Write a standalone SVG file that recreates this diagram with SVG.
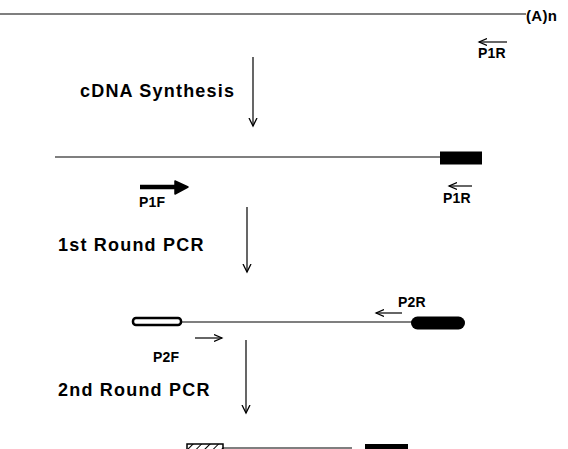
<svg xmlns="http://www.w3.org/2000/svg" width="568" height="449" viewBox="0 0 568 449">
<style>
.t{font-family:"Liberation Sans",Arial,sans-serif;font-weight:bold;fill:#000}
.h{font-size:18px;letter-spacing:1.2px}
.p{font-size:14px;letter-spacing:0.2px}
.ln{stroke:#000;stroke-width:1.2;fill:none}
.pr{stroke:#000;stroke-width:1.2;fill:none;marker-end:url(#oa)}
.va{stroke:#000;stroke-width:1.2;fill:none;marker-end:url(#va)}
</style>
<defs>
<marker id="oa" markerWidth="10" markerHeight="8" refX="8" refY="4" orient="auto" markerUnits="userSpaceOnUse">
<path d="M0,0.5 L8,4 L0,7.5" fill="none" stroke="#000" stroke-width="1.2"/>
</marker>
<marker id="va" markerWidth="10" markerHeight="10" refX="8" refY="4.5" orient="auto" markerUnits="userSpaceOnUse">
<path d="M0,0.5 L8,4.5 L0,8.5" fill="none" stroke="#000" stroke-width="1.3"/>
</marker>
<pattern id="hatch" width="6" height="6" patternUnits="userSpaceOnUse" patternTransform="rotate(45)">
<rect width="6" height="6" fill="#fff"/>
<line x1="0" y1="0" x2="0" y2="6" stroke="#000" stroke-width="2"/>
</pattern>
</defs>

<g id="mrna">
<line class="ln" x1="0" y1="14" x2="526" y2="14"/>
<text class="t" x="526" y="21" font-size="15" letter-spacing="0.3">(A)n</text>
</g>
<g id="p1r-top">
<line class="pr" x1="507" y1="42" x2="479" y2="42"/>
<text class="t p" x="478" y="58">P1R</text>
</g>
<g id="step-cdna">
<text class="t h" x="80" y="97">cDNA Synthesis</text>
</g>

<g id="cdna">
<line class="ln" x1="55" y1="157" x2="441" y2="157"/>
<rect x="440" y="151.5" width="42" height="13" fill="#000"/>
</g>
<g id="p1f">
<line x1="140" y1="187" x2="180" y2="187" stroke="#000" stroke-width="4.5"/>
<path d="M175,181 L188,187 L175,194 Z" fill="#000" stroke="#000" stroke-width="1.5" stroke-linejoin="round"/>
<text class="t p" x="139" y="207">P1F</text>
</g>
<g id="p1r-mid">
<line class="pr" x1="472" y1="186" x2="449" y2="186"/>
<text class="t p" x="443" y="203">P1R</text>
</g>
<g id="step-round1">
<text class="t h" x="58" y="251">1st Round PCR</text>
</g>

<g id="pcr1">
<line class="ln" x1="182" y1="322" x2="412" y2="322"/>
<rect x="133" y="318" width="48" height="7" rx="3" fill="#fff" stroke="#000" stroke-width="2.5"/>
<rect x="411" y="316.5" width="54" height="13" rx="6.5" fill="#000"/>
</g>
<g id="p2r">
<line class="pr" x1="402" y1="313" x2="376" y2="313"/>
<text class="t p" x="398" y="307">P2R</text>
</g>
<g id="p2f">
<line class="pr" x1="195" y1="338" x2="222" y2="338"/>
<text class="t p" x="153" y="362">P2F</text>
</g>
<g id="step-round2">
<text class="t h" x="58" y="396">2nd Round PCR</text>
</g>

<g id="pcr2">
<rect x="187" y="444" width="36" height="6" fill="url(#hatch)" stroke="#000" stroke-width="1.5"/>
<line class="ln" x1="223" y1="448" x2="352" y2="448"/>
<rect x="365" y="444" width="43" height="6" fill="#000"/>
</g>

<g id="connectors">
<line class="va" x1="253" y1="57" x2="253" y2="126"/>
<line class="va" x1="247" y1="207" x2="247" y2="272"/>
<line class="va" x1="246" y1="340" x2="246" y2="413"/>
</g>
</svg>
